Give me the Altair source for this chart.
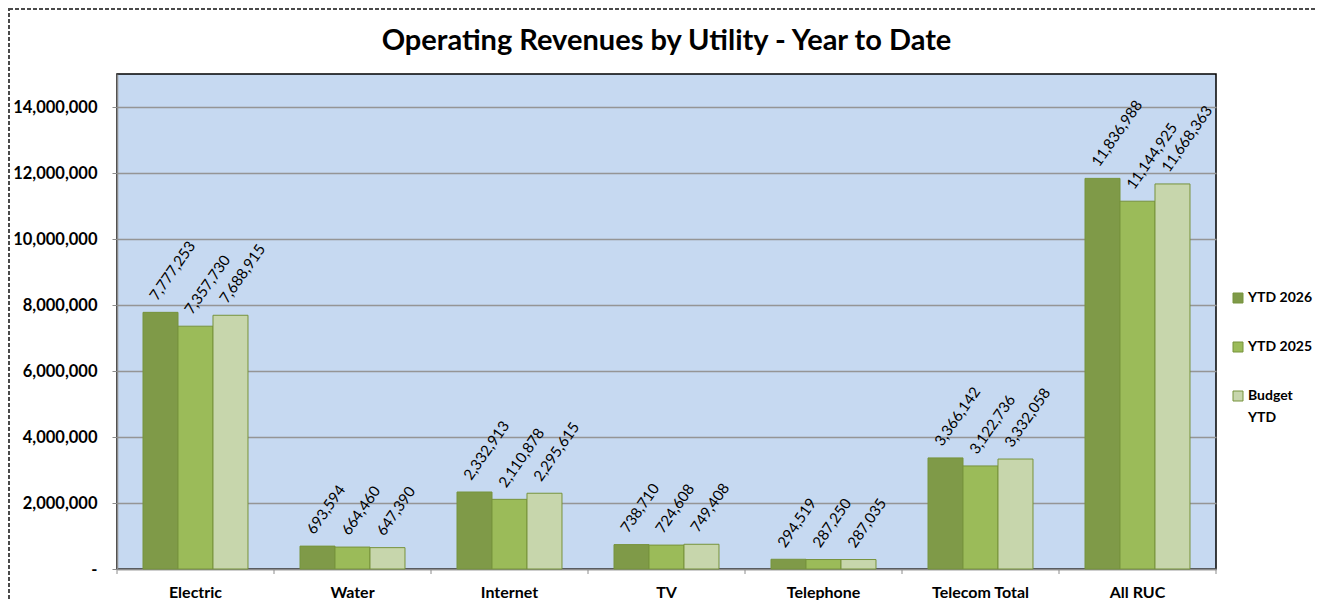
import altair as alt
import pandas as pd

categories = ["Electric", "Water", "Internet", "TV", "Telephone", "Telecom Total", "All RUC"]
series = ["YTD 2026", "YTD 2025", "Budget YTD"]
ytd_2026 = [7777253, 693594, 2332913, 738710, 294519, 3366142, 11836988]
ytd_2025 = [7357730, 664460, 2110878, 724608, 287250, 3122736, 11144925]
budget_ytd = [7688915, 647390, 2295615, 749408, 287035, 3332058, 11668363]
colors = ["#7F9A48", "#9BBB59", "#C7D6AC"]
y_ticks = [0, 2000000, 4000000, 6000000, 8000000, 10000000, 12000000, 14000000]

rows = []
for i, c in enumerate(categories):
    for s, vals in zip(series, [ytd_2026, ytd_2025, budget_ytd]):
        rows.append({"category": c, "series": s, "value": vals[i]})
df = pd.DataFrame(rows)

FONT = "Lato"
W, H = 1099, 495

x_enc = alt.X("category:N", sort=categories,
              scale=alt.Scale(paddingInner=0, paddingOuter=0),
              axis=alt.Axis(title=None, ticks=False, labelAngle=0, labelFont=FONT,
                            labelFontWeight="bold", labelFontSize=16, labelColor="black",
                            labelPadding=15, domainColor="#8C8C8C", domainWidth=1.5))
xoff = alt.XOffset("series:N", sort=series,
                   scale=alt.Scale(paddingInner=0, paddingOuter=0.743))
y_enc = alt.Y("value:Q",
              scale=alt.Scale(domain=[0, 15000000], nice=False),
              axis=alt.Axis(title=None, values=y_ticks, grid=True, gridColor="#959595",
                            gridWidth=1.5, tickColor="#8C8C8C", tickSize=5, tickWidth=1,
                            domainColor="#8C8C8C", domainWidth=1.5,
                            labelFont=FONT, labelFontWeight="bold", labelFontSize=16.5,
                            labelColor="black", labelPadding=15,
                            labelExpr="datum.value == 0 ? '-' : format(datum.value, ',')"))

color_enc = alt.Color("series:N", sort=series,
                      scale=alt.Scale(domain=series, range=colors),
                      legend=alt.Legend(title=None, orient="none", legendX=1114, legendY=217,
                                        symbolType="square", symbolSize=100,
                                        symbolStrokeColor="#77933C", symbolStrokeWidth=1,
                                        labelFont=FONT, labelFontWeight="bold", labelFontSize=14,
                                        labelColor="black", rowPadding=35, labelOffset=3,
                                        labelExpr="datum.label == 'Budget YTD' ? ['Budget', 'YTD'] : datum.label"))

bars = alt.Chart(df).mark_bar(stroke="#77933C", strokeWidth=1).encode(
    x=x_enc, xOffset=xoff, y=y_enc, color=color_enc)

labels = alt.Chart(df).mark_text(angle=305, align="left", baseline="alphabetic", dx=7, dy=-9,
                                 font=FONT, fontSize=15, color="black").encode(
    x=alt.X("category:N", sort=categories), xOffset=alt.XOffset("series:N", sort=series),
    y="value:Q", text=alt.Text("value:Q", format=","))

tick_df = pd.DataFrame({"category": categories})
ticks = alt.Chart(tick_df).mark_rule(color="#8C8C8C", strokeWidth=1).encode(
    x=alt.X("category:N", sort=categories, bandPosition=0),
    y=alt.value(H), y2=alt.value(H + 5))
last_tick = alt.Chart(tick_df.tail(1)).mark_rule(color="#8C8C8C", strokeWidth=1).encode(
    x=alt.X("category:N", sort=categories, bandPosition=1),
    y=alt.value(H), y2=alt.value(H + 5))

border = alt.Chart(pd.DataFrame({"a": [0]})).mark_rect(
    filled=False, stroke="#4A4A4A", strokeWidth=2, strokeDash=[4, 2]).encode(
    x=alt.value(-108), x2=alt.value(W + 130), y=alt.value(-65), y2=alt.value(H + 60))

chart = alt.layer(bars, labels, ticks, last_tick, border).properties(
    width=W, height=H,
    title=alt.Title("Operating Revenues by Utility - Year to Date", font=FONT, fontSize=29,
                    fontWeight="bold", color="black", anchor="middle", baseline="alphabetic",
                    frame="group", offset=0, dy=71),
    padding={"left": 109, "top": 66, "right": 99, "bottom": 31},
    autosize=alt.AutoSizeParams(type="none"),
).configure(
    background="white",
    style={"guide-label": {"lineHeight": 22}},
).configure_view(fill="#C6D9F1", stroke="black", strokeWidth=1.5)

chart.save("out.html", embed_options={"renderer": "svg", "actions": False})
